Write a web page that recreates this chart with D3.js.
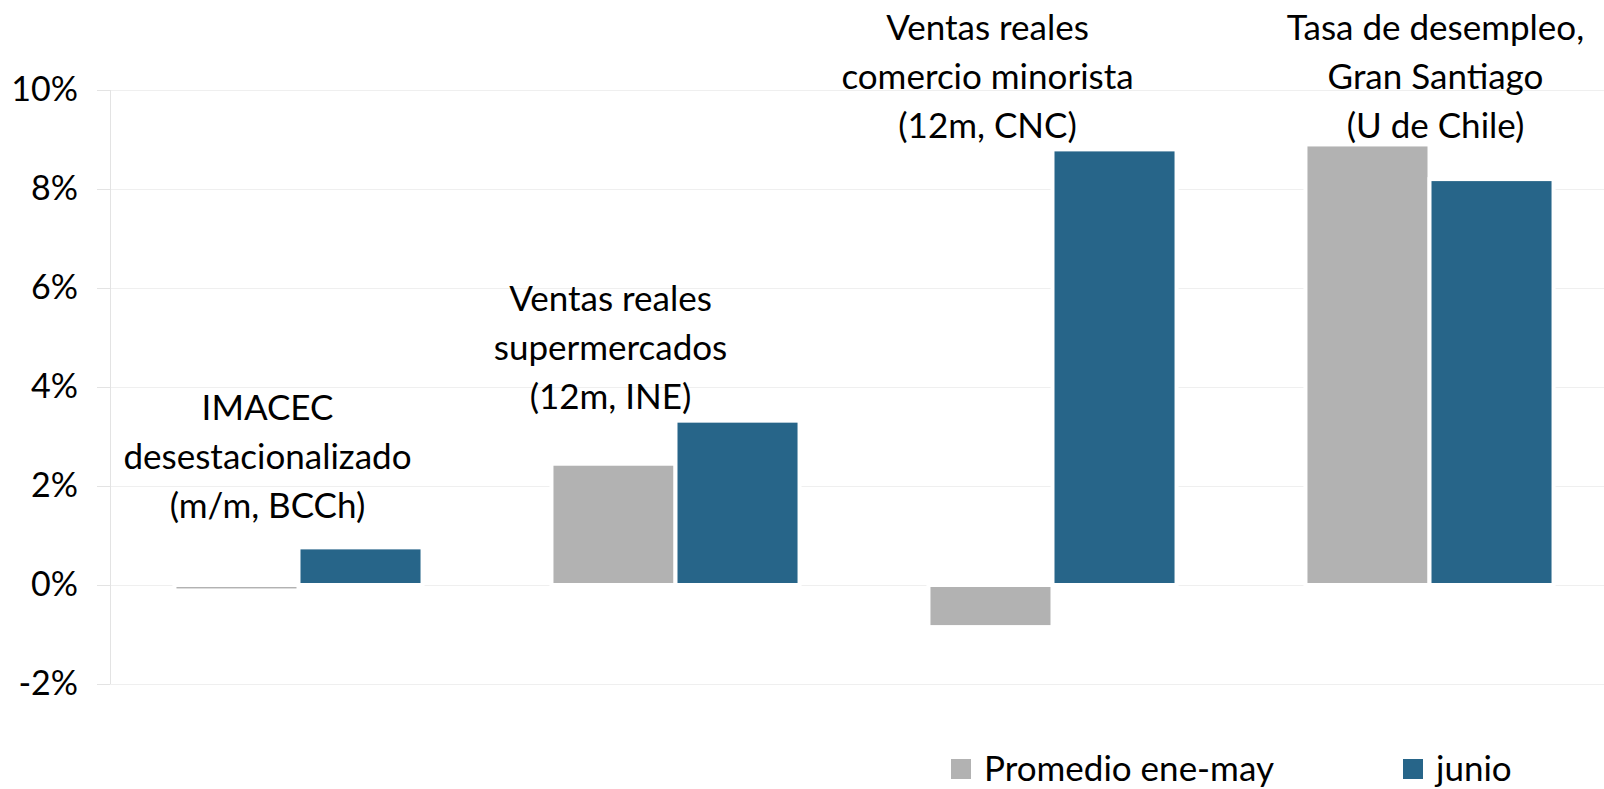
<!DOCTYPE html>
<html>
<head>
<meta charset="utf-8">
<script src="https://cdn.jsdelivr.net/npm/d3@7"></script>
<style>
  body { margin: 0; background: #fff; }
  text { font-family: Lato, "Noto Sans", sans-serif; fill: #000; }
</style>
</head>
<body>
<div id="chart"></div>
<script>
// data
const categories = ["imacec", "super", "comercio", "desempleo"];
const categoryLines = [
    ["IMACEC", "desestacionalizado", "(m/m, BCCh)"],
    ["Ventas reales", "supermercados", "(12m, INE)"],
    ["Ventas reales", "comercio minorista", "(12m, CNC)"],
    ["Tasa de desempleo,", "Gran Santiago", "(U de Chile)"]
];
const seriesNames = ["Promedio ene-may", "junio"];
const promedio = [-0.11, 2.45, -0.85, 8.9];
const junio = [0.76, 3.32, 8.8, 8.2];
const yTicks = [-2, 0, 2, 4, 6, 8, 10];

// label placement (baseline of first line in % units, x shift in px)
const labelY = [3.33, 5.54, 11.02, 11.02];
const labelDx = [-31, -65, -65, 6];

const seriesColors = ["#b2b2b2", "#276589"];

const width = 1604, height = 789;
const plotLeft = 110, plotTop = 90, plotBottom = 684;

const svg = d3.select("#chart")
    .append("svg")
    .attr("width", width)
    .attr("height", height);

const y = d3.scaleLinear()
    .domain([-2, 10])
    .range([plotBottom, plotTop]);

const x0 = d3.scaleBand()
    .domain(categories)
    .range([plotLeft, 1618])
    .paddingInner(0.342)
    .paddingOuter(0.171);

const x1 = d3.scaleBand()
    .domain(seriesNames)
    .range([0, x0.bandwidth()]);

// gridlines
svg.append("g")
    .attr("transform", `translate(${plotLeft},0)`)
    .call(d3.axisLeft(y).tickValues(yTicks).tickSize(-(width - plotLeft)).tickFormat(""))
    .call(g => g.select(".domain").remove())
    .call(g => g.selectAll(".tick line").attr("stroke", "#efefef"));

// bars
const rows = categories.map((c, i) => ({ cat: c, values: [promedio[i], junio[i]] }));

svg.append("g")
    .selectAll("g")
    .data(rows)
    .join("g")
    .attr("transform", d => `translate(${x0(d.cat)},0)`)
    .selectAll("rect")
    .data(d => d.values.map((v, j) => ({ name: seriesNames[j], value: v, color: seriesColors[j] })))
    .join("rect")
    .attr("x", d => x1(d.name))
    .attr("width", x1.bandwidth())
    .attr("y", d => Math.min(y(d.value), y(0)))
    .attr("height", d => Math.abs(y(d.value) - y(0)))
    .attr("fill", d => d.color)
    .attr("stroke", "#fff")
    .attr("stroke-width", 4);

// y axis
svg.append("g")
    .attr("transform", `translate(${plotLeft},0)`)
    .call(d3.axisLeft(y).tickValues(yTicks).tickSize(13).tickPadding(19).tickFormat(d => d + "%"))
    .call(g => g.select(".domain").attr("stroke", "#e3e3e3").attr("d", `M0.5,${plotTop}V${plotBottom}`))
    .call(g => g.selectAll(".tick line").attr("stroke", "#e3e3e3"))
    .call(g => g.selectAll(".tick text").attr("font-size", 34).attr("font-family", "Lato, sans-serif").attr("fill", "#000"));

// category labels
const lineGap = 49;
svg.append("g")
    .selectAll("text")
    .data(categories)
    .join("text")
    .attr("text-anchor", "middle")
    .attr("font-size", 35)
    .attr("x", (d, i) => x0(d) + x0.bandwidth() / 2 + labelDx[i])
    .attr("y", (d, i) => y(labelY[i]))
    .each(function(d, i) {
        d3.select(this).selectAll("tspan")
            .data(categoryLines[i])
            .join("tspan")
            .attr("x", x0(d) + x0.bandwidth() / 2 + labelDx[i])
            .attr("dy", (t, k) => k === 0 ? 0 : lineGap)
            .text(t => t);
    });

// legend
const legendX = [951, 1403];
const legend = svg.append("g")
    .selectAll("g")
    .data(seriesNames)
    .join("g")
    .attr("transform", (d, i) => `translate(${legendX[i]},759)`);

legend.append("rect")
    .attr("width", 20)
    .attr("height", 20)
    .attr("fill", (d, i) => seriesColors[i]);

legend.append("text")
    .attr("x", 33)
    .attr("y", 22)
    .attr("font-size", 35)
    .text(d => d);
</script>
</body>
</html>
